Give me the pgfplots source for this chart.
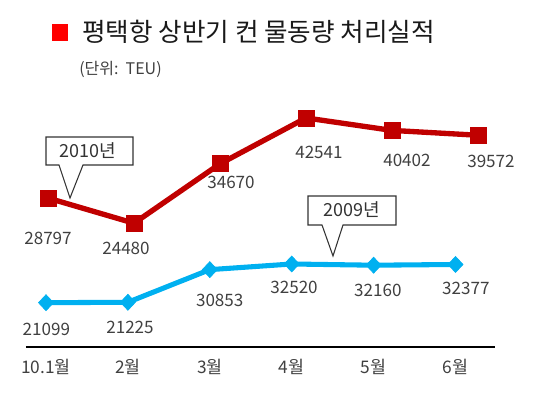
\documentclass[border=0pt]{standalone}
\usepackage{fontspec}
\setmainfont{Noto Sans CJK KR}
\usepackage{pgfplots}
\pgfplotsset{compat=1.18}
\definecolor{redL}{HTML}{C00000}
\definecolor{blueL}{HTML}{00B0F0}
\definecolor{txt}{HTML}{404040}

\begin{document}
\begin{tikzpicture}[x=0.75pt,y=0.75pt]
% origin = south west corner of the plot area (px 26, 347 from top-left)
\path[use as bounding box] (-26,-49) rectangle (524,347);
\fill[red] (26,306) rectangle (42,323);
\node[anchor=west, font=\fontsize{19.2}{22}\selectfont, text=black!90, inner sep=0] at (56,315) {평택항 상반기 컨 물동량 처리실적};
\node[anchor=west, font=\fontsize{12}{14}\selectfont, text=txt, inner sep=0] at (53,278) {(단위:\ \ TEU)};

\begin{axis}[scale only axis,
  width=351.75pt, height=185.25pt,
  xmin=-0.2442, xmax=5.482, ymin=8027, ymax=80910,
  axis y line=none, axis x line*=bottom,
  x axis line style={-, line width=1.6pt, black},
  xtick={0,...,5}, xticklabels={10.1월,2월,3월,4월,5월,6월},
  major tick length=0pt,
  xticklabel style={font=\fontsize{13}{15}\selectfont, text=txt, anchor=center, yshift=-15pt},
  clip=false]
\addplot[blueL, line width=3.8pt, mark=diamond*, mark size=6pt,
  mark options={solid, fill=blueL, draw=blueL, line width=0.5pt, xscale=1.25},
  point meta=explicit symbolic,
  nodes near coords=\pgfplotspointmeta,
  visualization depends on={value \thisrow{dx}\as\dx},
  visualization depends on={value \thisrow{dy}\as\dy},
  every node near coord/.append style={anchor=center, xshift=\dx*0.75pt, yshift=-\dy*0.75pt, font=\fontsize{12.8}{14}\selectfont, text=txt}]
  table[x=x, y=y, meta=lab]{
x y lab dx dy
0 21099 21099 0.3 27
1 21225 21225 2.1 24.7
2 30853 30853 9.9 30.4
3 32520 32520 2.3 23.3
4 32160 32160 4.2 25.1
5 32377 32377 10.3 23.8
};
\end{axis}

\begin{axis}[scale only axis,
  width=351.75pt, height=185.25pt,
  xmin=-0.2558, xmax=5.198, ymin=3245, ymax=45619,
  hide axis, clip=false]
\addplot[redL, line width=4pt, mark=square*, mark size=6pt,
  mark options={solid, fill=redL, draw=redL, line width=0.5pt},
  point meta=explicit symbolic,
  nodes near coords=\pgfplotspointmeta,
  visualization depends on={value \thisrow{dx}\as\dx},
  visualization depends on={value \thisrow{dy}\as\dy},
  every node near coord/.append style={anchor=center, xshift=\dx*0.75pt, yshift=-\dy*0.75pt, font=\fontsize{12.8}{14}\selectfont, text=txt}]
  table[x=x, y=y, meta=lab]{
x y lab dx dy
0 28797 28797 0 40.2
1 24480 24480 -8 25.1
2 34670 34670 11 18.7
3 42541 42541 13 34.8
4 40402 40402 15 30.4
5 39572 39572 13 25.8
};
\end{axis}

\draw[fill=white, draw=black!80, line width=0.8pt] (20,210)--(107,210)--(107,182)--(57,182)--(44,149)--(33,182)--(20,182)--cycle;
\node[font=\fontsize{13.5}{15}\selectfont, text=black!80] at (62,196) {2010년};
\draw[fill=white, draw=black!80, line width=0.8pt] (282,151)--(370,151)--(370,122)--(317,122)--(307,91)--(296,122)--(282,122)--cycle;
\node[font=\fontsize{13.5}{15}\selectfont, text=black!80] at (326,137) {2009년};
\end{tikzpicture}
\end{document}
